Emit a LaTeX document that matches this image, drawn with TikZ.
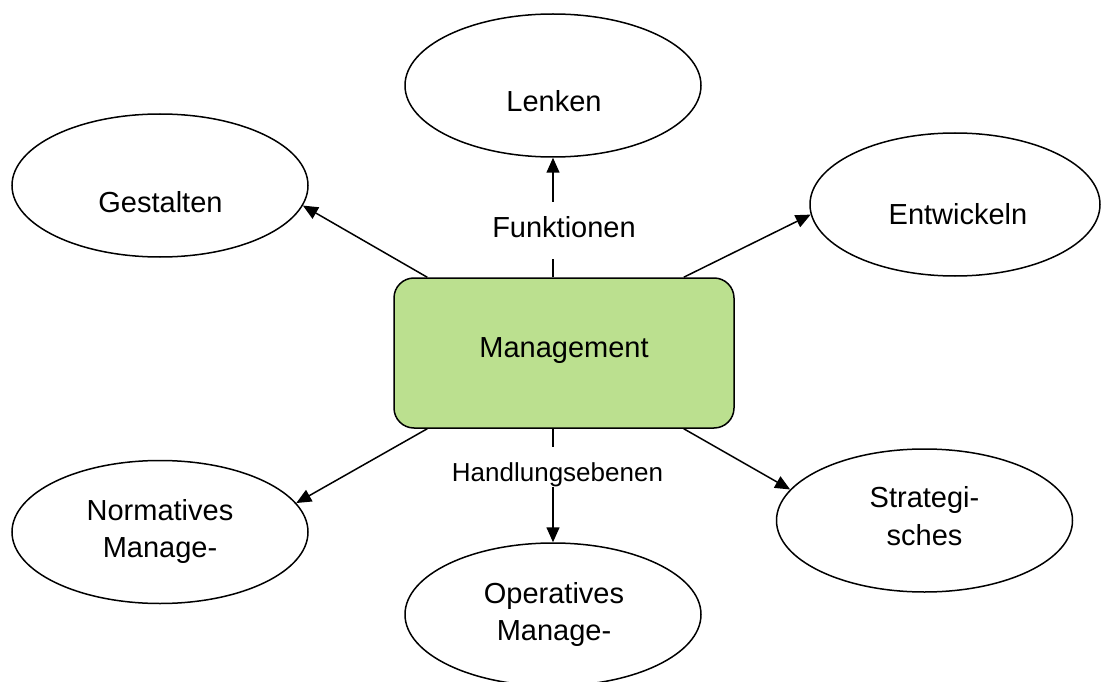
\documentclass[tikz,border=0pt]{standalone}
\usepackage{fontspec}
\setmainfont{Liberation Sans}
\usetikzlibrary{shapes.geometric,arrows.meta}
\definecolor{mgreen}{RGB}{187,224,143}
\begin{document}
\begin{tikzpicture}[x=1pt,y=-1pt,
  bubble/.style={ellipse, draw, line width=1.5pt, minimum width=296pt, minimum height=143pt, inner sep=0pt},
  txt/.style={font=\fontsize{29}{37.5}\selectfont, inner sep=0pt, align=center},
  conn/.style={line width=1.5pt, -{Triangle[length=15pt,width=13pt]}},
  lbl/.style={fill=white, inner sep=0pt, font=\fontsize{29}{35}\selectfont},
  lblsmall/.style={fill=white, inner sep=0pt, font=\fontsize{26}{31}\selectfont},
  boxstyle/.style={draw, fill=mgreen, rounded corners=20pt, minimum width=340pt, minimum height=150pt, line width=1.5pt, inner sep=0pt}]
\useasboundingbox (0,0) rectangle (1101,682);
\clip (0,0) rectangle (1101,682);
% central box
\node[boxstyle] (mgmt) at (564,353) {};
\node[txt, anchor=base] (mgmtT) at (564,357) {Management};
% ellipses
\node[bubble] (lenken) at (553,85.5) {};
\node[txt, anchor=base] (lenkenT) at (554,112) {Lenken};
\node[bubble] (gestalten) at (160,185.5) {};
\node[txt, anchor=base] (gestaltenT) at (160.5,212) {Gestalten};
\node[bubble, minimum width=290pt] (entwickeln) at (955,204.5) {};
\node[txt, anchor=base] (entwickelnT) at (958,225) {Entwickeln};
\node[bubble] (normativ) at (160,532) {};
\node[txt] (normativT) at (160,531.5) {Normatives\\Manage-};
\node[bubble] (strateg) at (924.5,520.5) {};
\node[txt] (strategT) at (924.5,516) {Strategi-\\sches};
\node[bubble] (operativ) at (553,614.5) {};
\node[txt] (operativT) at (554,614.5) {Operatives\\Manage-};
% connectors
\draw[conn] ([xshift=34pt]mgmt.north west) -- (gestalten.-8.5);
\draw[conn] ([xshift=-51pt]mgmt.north east) -- (entwickeln.184);
\draw[conn] ([xshift=34pt]mgmt.south west) -- (normativ.12.2);
\draw[conn] ([xshift=-51pt]mgmt.south east) -- (strateg.167.8);
\draw[conn] ([xshift=-11pt]mgmt.north) -- node[lbl, pos=0.3926, xshift=11pt, text height=36pt, text depth=21pt] (funk) {Funktionen} (lenken.south);
\draw[conn] ([xshift=-11pt]mgmt.south) -- node[lblsmall, pos=0.339, xshift=4.5pt, text height=34pt, text depth=6pt] (handl) {Handlungsebenen} (operativ.north);
\end{tikzpicture}
\end{document}
